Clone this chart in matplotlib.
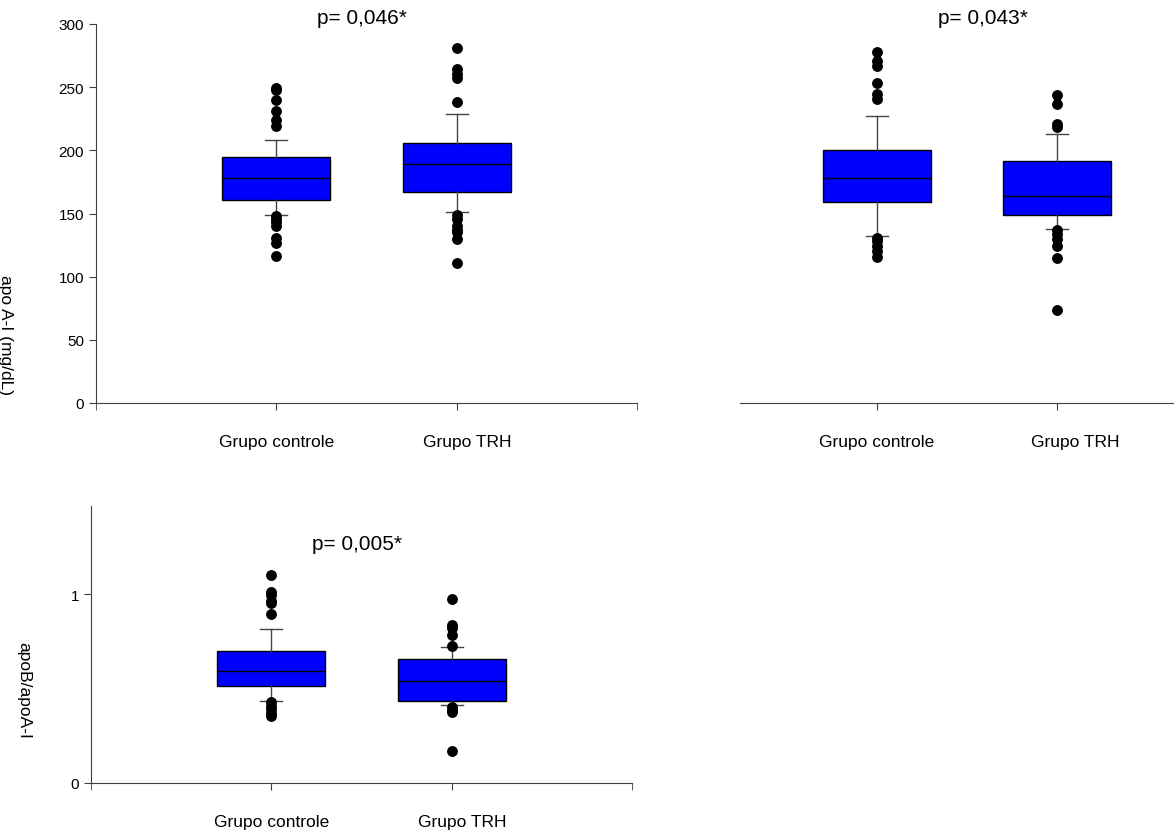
import matplotlib
matplotlib.use("Agg")
import matplotlib.pyplot as plt
from matplotlib.transforms import ScaledTranslation

plt.rcParams["font.family"] = ["Liberation Sans", "DejaVu Sans"]

W, H = 1174, 837

groups = ["Grupo controle", "Grupo TRH"]

# apo A-I, left panel
apoa_q1 = [160.7, 167.3]
apoa_med = [178.4, 189.0]
apoa_q3 = [194.8, 205.9]
apoa_lo = [148.8, 151.0]
apoa_hi = [208.0, 228.8]
apoa_fliers = [
    [249.5, 247.5, 239.5, 231.5, 224.0, 219.6, 148.0, 146.0, 143.0, 140.0, 130.4, 126.4, 116.6],
    [280.8, 264.4, 260.5, 257.0, 238.0, 149.0, 146.0, 140.3, 137.0, 135.0, 129.8, 110.6],
]

# right panel
apob_q1 = [158.9, 149.1]
apob_med = [177.9, 164.2]
apob_q3 = [200.3, 191.9]
apob_lo = [132.0, 137.5]
apob_hi = [227.2, 213.0]
apob_fliers = [
    [277.7, 271.0, 267.0, 253.0, 244.6, 240.7, 131.0, 128.5, 124.0, 120.0, 115.5],
    [243.9, 236.7, 220.9, 218.3, 137.0, 133.8, 129.8, 124.5, 114.5, 73.6],
]

# apoB/apoA-I ratio
ratio_q1 = [0.512, 0.433]
ratio_med = [0.595, 0.539]
ratio_q3 = [0.699, 0.655]
ratio_lo = [0.435, 0.412]
ratio_hi = [0.817, 0.722]
ratio_fliers = [
    [1.100, 1.014, 0.995, 0.965, 0.951, 0.894, 0.430, 0.410, 0.390, 0.370, 0.355],
    [0.977, 0.838, 0.820, 0.785, 0.727, 0.400, 0.385, 0.375, 0.167],
]

p_labels = ["p= 0,046*", "p= 0,043*", "p= 0,005*"]

fig = plt.figure(figsize=(W / 100, H / 100), dpi=100)


def px_axes(x0, y0, x1, y1):
    return fig.add_axes([x0 / W, 1 - y1 / H, (x1 - x0) / W, (y1 - y0) / H])


def make_stats(q1, med, q3, lo, hi, fliers):
    return [dict(q1=q1[i], med=med[i], q3=q3[i], whislo=lo[i], whishi=hi[i],
                 fliers=fliers[i], label=groups[i]) for i in range(len(groups))]


def draw_box(ax, stats):
    ax.bxp(stats, positions=[1, 2], widths=0.6, capwidths=0.122, patch_artist=True,
           boxprops=dict(facecolor="#0000ff", edgecolor="black", linewidth=1.0),
           medianprops=dict(color="black", linewidth=1.0),
           whiskerprops=dict(color="#444444", linewidth=1.0),
           capprops=dict(color="#444444", linewidth=1.0),
           flierprops=dict(marker="o", markerfacecolor="black", markeredgecolor="black",
                           markersize=6.8))
    for s in ["top", "right"]:
        ax.spines[s].set_visible(False)
    for s in ["left", "bottom"]:
        ax.spines[s].set_color("#404040")
    ax.tick_params(direction="out", length=5, color="#404040", labelsize=11)
    ax.tick_params(axis="x", pad=17, labelsize=12.5)
    ax.tick_params(which="minor", direction="out", length=5, color="#404040")
    # nudge the second category label to the right
    shift = ScaledTranslation(11 / 100, 0, fig.dpi_scale_trans)
    lab = ax.get_xticklabels()[1]
    lab.set_transform(lab.get_transform() + shift)


# left top panel
ax1 = px_axes(96, 25, 637, 404)
draw_box(ax1, make_stats(apoa_q1, apoa_med, apoa_q3, apoa_lo, apoa_hi, apoa_fliers))
ax1.set_xlim(0, 3)
ax1.set_ylim(0, 300)
ax1.set_yticks([0, 50, 100, 150, 200, 250, 300])
ax1.set_xticks([0, 3], minor=True)

# right top panel
ax2 = px_axes(740, 25, 1174, 404)
draw_box(ax2, make_stats(apob_q1, apob_med, apob_q3, apob_lo, apob_hi, apob_fliers))
ax2.set_xlim(1 - 137 / 180, 2 + 117 / 180)
ax2.set_ylim(0, 300)
ax2.spines["left"].set_visible(False)
ax2.set_yticks([])
lab = ax2.get_xticklabels()[1]
lab.set_transform(lab.get_transform() + ScaledTranslation(7 / 100, 0, fig.dpi_scale_trans))

# bottom panel
ax3 = px_axes(91, 507, 632, 784)
draw_box(ax3, make_stats(ratio_q1, ratio_med, ratio_q3, ratio_lo, ratio_hi, ratio_fliers))
ax3.set_xlim(0, 3)
ax3.set_ylim(0, 1.467)
ax3.set_yticks([0, 1])
ax3.set_yticklabels(["0", "1"])
ax3.set_xticks([0, 3], minor=True)

fig.text(362 / W, 1 - 19 / H, p_labels[0], ha="center", va="center", fontsize=15)
fig.text(983 / W, 1 - 19 / H, p_labels[1], ha="center", va="center", fontsize=15)
fig.text(357 / W, 1 - 545 / H, p_labels[2], ha="center", va="center", fontsize=15)

fig.text(5 / W, 1 - 335 / H, "apo A-I (mg/dL)", rotation=270, ha="center", va="center",
         fontsize=12.5)
fig.text(24 / W, 1 - 690 / H, "apoB/apoA-I", rotation=270, ha="center", va="center",
         fontsize=12.5)

fig.savefig("out.png", dpi=100)
